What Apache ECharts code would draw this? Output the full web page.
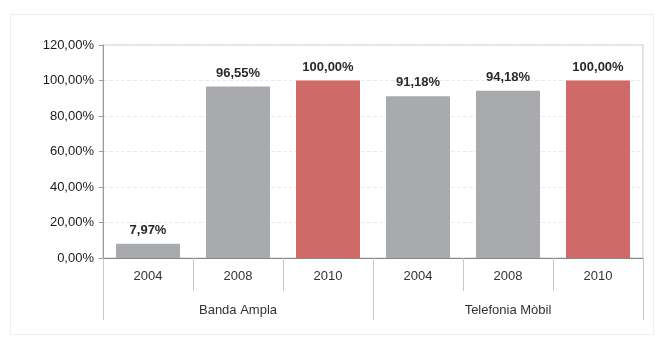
<!DOCTYPE html>
<html>
<head>
<meta charset="utf-8">
<script src="https://cdn.jsdelivr.net/npm/echarts@6/dist/echarts.min.js"></script>
<style>
html,body{margin:0;padding:0;background:#ffffff;}
#chart{width:656px;height:337px;}
</style>
</head>
<body>
<div id="chart"></div>
<script>
var years = ['2004', '2008', '2010', '2004', '2008', '2010'];
var groups = ['Banda Ampla', 'Telefonia Mòbil'];
var values = [7.97, 96.55, 100.00, 91.18, 94.18, 100.00];
var yTicks = [0, 20, 40, 60, 80, 100, 120];

var GRAY = '#a9aaad';
var RED = '#d06a68';
var fmt = function (v) { return v.toFixed(2).replace('.', ',') + '%'; };
var font = 'Liberation Sans, Arial, sans-serif';

var chart = echarts.init(document.getElementById('chart'), null, {renderer: 'canvas'});
chart.setOption({
  animation: false,
  backgroundColor: '#ffffff',
  graphic: [{
    type: 'rect', left: 8, top: 12,
    shape: {width: 643, height: 320},
    style: {fill: 'none', stroke: '#eeeeee', lineWidth: 1},
    silent: true
  }],
  grid: {left: 103, right: 13, top: 45, bottom: 79, show: true, borderColor: '#c8c8c8', borderWidth: 1, backgroundColor: '#ffffff'},
  xAxis: [{
    type: 'category',
    data: years,
    position: 'bottom',
    axisLine: {show: true, lineStyle: {color: '#888888', width: 1}},
    axisTick: {show: true, interval: 0, length: 33, lineStyle: {color: '#c8c8c8'}},
    axisLabel: {interval: 0, margin: 12, fontFamily: font, fontSize: 13, color: '#333333'}
  }, {
    type: 'category',
    data: groups,
    position: 'bottom',
    gridIndex: 0,
    axisLine: {show: false},
    axisTick: {show: true, interval: 0, length: 62, lineStyle: {color: '#c8c8c8'}},
    axisLabel: {interval: 0, margin: 46, fontFamily: font, fontSize: 13, color: '#333333'}
  }],
  yAxis: {
    type: 'value',
    min: yTicks[0], max: yTicks[yTicks.length - 1], interval: 20,
    axisLine: {show: true, lineStyle: {color: '#999999'}},
    axisTick: {show: true, length: 4, lineStyle: {color: '#999999'}},
    axisLabel: {margin: 9, fontFamily: font, fontSize: 13, color: '#1a1a1a', formatter: function (v) { return fmt(v); }},
    splitLine: {show: true, lineStyle: {color: '#ebebeb', type: 'dashed'}}
  },
  series: [{
    type: 'bar',
    xAxisIndex: 0,
    data: values,
    barWidth: 64,
    itemStyle: {color: function (p) { return years[p.dataIndex] === '2010' ? RED : GRAY; }},
    label: {
      show: true, position: 'top', distance: 7,
      fontFamily: font, fontSize: 13, fontWeight: 'bold', color: '#2a2a2a',
      formatter: function (p) { return fmt(p.value); }
    }
  }]
});
</script>
</body>
</html>
